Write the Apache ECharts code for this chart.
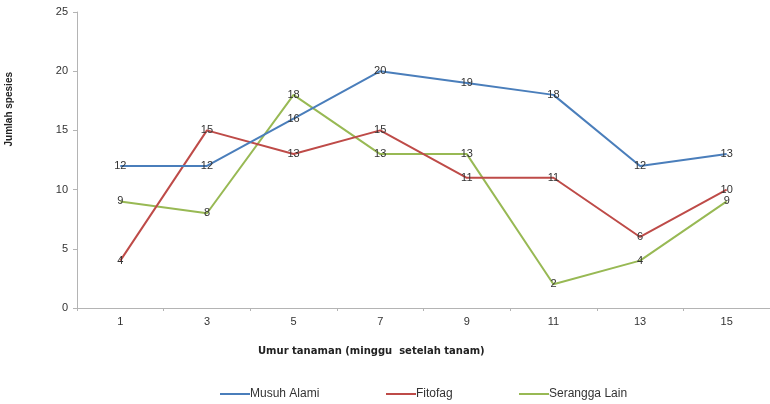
<!DOCTYPE html>
<html>
<head>
<meta charset="utf-8">
<script src="https://cdn.jsdelivr.net/npm/echarts@6/dist/echarts.min.js"></script>
<style>
  html, body { margin: 0; padding: 0; background: #fff; }
  #chart { width: 770px; height: 404px; }
</style>
</head>
<body>
<div id="chart"></div>
<script>
// Weeks after planting
const weeks = ['1', '3', '5', '7', '9', '11', '13', '15'];
// Number of species per group
const musuhAlami = [12, 12, 16, 20, 19, 18, 12, 13];
const fitofag = [4, 15, 13, 15, 11, 11, 6, 10];
const seranggaLain = [9, 8, 18, 13, 13, 2, 4, 9];

const seriesNames = ['Musuh Alami', 'Fitofag', 'Serangga Lain'];
const seriesColors = ['#4a7ebb', '#be4b48', '#98b954'];
const seriesData = [musuhAlami, fitofag, seranggaLain];
const legendLefts = [220, 386, 519];

const chart = echarts.init(document.getElementById('chart'), null, { renderer: 'canvas' });

const font = 'Liberation Sans, Arial, sans-serif';

chart.setOption({
  animation: false,
  backgroundColor: '#ffffff',
  grid: { left: 77, top: 12, width: 699, height: 296, containLabel: false },
  legend: seriesNames.map((n, i) => ({
    data: [n],
    left: legendLefts[i],
    top: 388,
    padding: 0,
    itemWidth: 30,
    itemHeight: 10,
    icon: 'path://M0,4 L30,4 L30,6 L0,6 Z',
    textStyle: { fontFamily: font, fontSize: 12, color: '#333', padding: [0, 0, 0, -5] }
  })),
  xAxis: {
    type: 'category',
    data: weeks,
    boundaryGap: true,
    axisLine: { lineStyle: { color: '#b4b4b4', width: 1 } },
    axisTick: { show: true, length: 3, lineStyle: { color: '#b4b4b4' } },
    axisLabel: { fontFamily: font, fontSize: 11, color: '#333', margin: 8 },
    splitLine: { show: false }
  },
  yAxis: {
    type: 'value',
    min: 0,
    max: 25,
    interval: 5,
    axisLine: { show: true, lineStyle: { color: '#b4b4b4', width: 1 } },
    axisTick: { show: true, length: 4, lineStyle: { color: '#b4b4b4' } },
    axisLabel: { fontFamily: font, fontSize: 11, color: '#333', margin: 9 },
    splitLine: { show: false }
  },
  graphic: [
    {
      type: 'text',
      left: 4,
      top: 72,
      rotation: Math.PI / 2,
      style: {
        text: 'Jumlah spesies',
        font: 'bold 10px "Liberation Sans", Arial, sans-serif',
        fill: '#222'
      }
    },
    {
      type: 'text',
      left: 258,
      top: 346,
      style: {
        text: 'Umur tanaman (minggu  setelah tanam)',
        font: 'bold 10px "DejaVu Sans", Verdana, sans-serif',
        fill: '#222'
      }
    }
  ],
  series: seriesData.map((d, i) => ({
    name: seriesNames[i],
    type: 'line',
    data: d,
    symbol: 'circle',
    symbolSize: 0,
    showSymbol: true,
    lineStyle: { color: seriesColors[i], width: 2 },
    itemStyle: { color: seriesColors[i] },
    label: {
      show: true,
      position: 'inside',
      fontFamily: font,
      fontSize: 11,
      color: '#333'
    },
    z: 3 - i
  }))
});
</script>
</body>
</html>
